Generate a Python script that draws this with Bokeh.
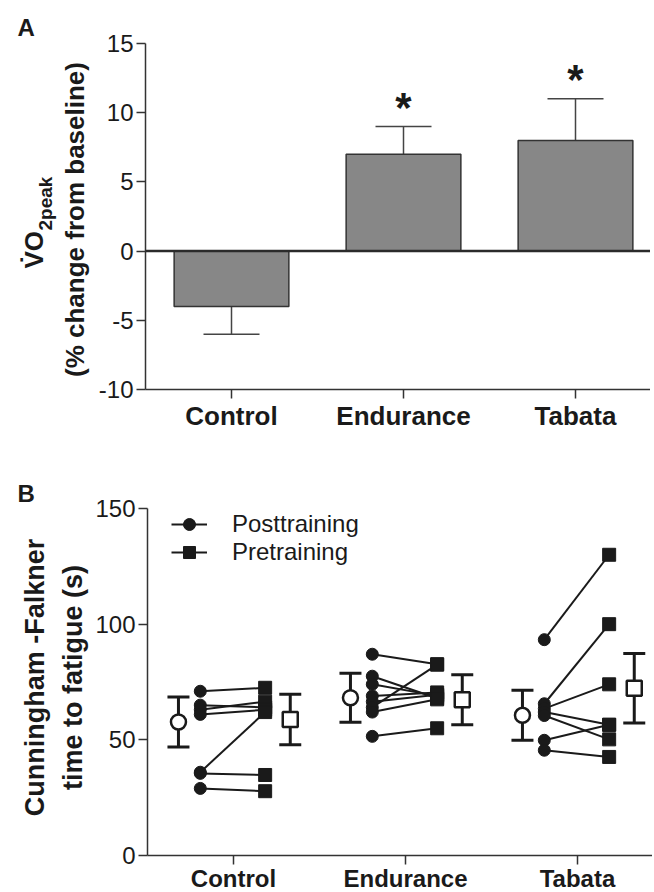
import numpy as np
from bokeh.plotting import figure
from bokeh.layouts import column, row
from bokeh.models import (FixedTicker, Span, Legend, LegendItem, Range1d, Title)
from bokeh.core.properties import value
from bokeh.embed import file_html
from bokeh.resources import INLINE

# ---------------- data ----------------
groups = ["Control", "Endurance", "Tabata"]

# Panel A: VO2peak % change from baseline
vo2_change = [-4, 7, 8]
vo2_err = [2, 2, 3]
vo2_sig = ["", "*", "*"]

# Panel B: Cunningham-Falkner time to fatigue (s), paired individuals
ctrl_post = [71, 65, 63, 61, 36, 35.5, 29]
ctrl_pre = [72.5, 64, 66.5, 63, 62, 34.8, 27.8]
end_post = [87, 77.5, 74, 69, 66.5, 64, 62, 51.5]
end_pre = [82.7, 68, 69, 70.5, 69.5, 82.5, 67.5, 55]
tab_post = [93.3, 65.6, 63.5, 62, 60.5, 49.8, 45.5]
tab_pre = [130, 100, 74, 56.5, 50.2, 56.5, 42.6]

post_mean = [57.7, 68.2, 60.6]
post_sd = [10.8, 10.6, 10.8]
pre_mean = [58.8, 67.3, 72.3]
pre_sd = [10.9, 10.8, 15.0]

legend_labels = ["Posttraining", "Pretraining"]
yA_ticks = [-10, -5, 0, 5, 10, 15]
yB_ticks = [0, 50, 100, 150]

# ---------------- style ----------------
FONT = "Liberation Sans"
INK = "#1a1a1a"
AX = "#333333"
LABW = 92           # width of the side strip holding the y titles
AXW = 53            # room for y tick labels inside each panel
FW = 505            # frame width (px)
PX_PER_CAT = 172.0  # px between categories
X0 = -0.5
X1 = X0 + FW / PX_PER_CAT


def style(p, ticks, cat_size):
    p.outline_line_color = None
    p.xgrid.visible = False
    p.ygrid.visible = False
    for ax in (p.xaxis[0], p.yaxis[0]):
        ax.axis_line_color = AX
        ax.axis_line_width = 1.5
        ax.major_tick_line_color = AX
        ax.major_tick_line_width = 1.5
        ax.major_tick_out = 9
        ax.major_tick_in = 0
        ax.minor_tick_line_color = None
        ax.major_label_text_font = FONT
        ax.major_label_text_color = INK
    p.yaxis.ticker = FixedTicker(ticks=ticks)
    p.yaxis.major_label_overrides = {t: str(t) for t in ticks}
    p.yaxis.major_label_text_font_size = "24px"
    p.yaxis.major_label_standoff = 3
    p.xaxis.ticker = FixedTicker(ticks=[0, 1, 2])
    p.xaxis.major_label_overrides = {i: g for i, g in enumerate(groups)}
    p.xaxis.major_label_text_font_size = cat_size
    p.xaxis.major_label_text_font_style = "bold"


def strip(top, fh, bottom, letter, letter_standoff):
    # side strip whose frame lines up with the panel frame; y data = -(px from panel top)
    s = figure(frame_width=LABW, frame_height=fh, min_border_left=0, min_border_right=0,
               min_border_top=top, min_border_bottom=bottom,
               x_range=Range1d(0, LABW), y_range=Range1d(-(top + fh), -top),
               x_axis_location=None, y_axis_location=None,
               output_backend="svg", toolbar_location=None)
    s.outline_line_color = None
    s.xgrid.visible = False
    s.ygrid.visible = False
    s.add_layout(Title(text=letter, align="left", offset=17, standoff=letter_standoff,
                       text_font=FONT, text_font_size="24px", text_font_style="bold",
                       text_color=INK), "above")
    return s


def put(s, text, px, py, size, align="center"):
    s.text(x=[px], y=[-py], text=[text], angle=np.pi / 2, text_font=value(FONT),
           text_font_size=size, text_font_style="bold", text_color=INK,
           text_align=align, text_baseline="alphabetic")


# ---------------- panel A ----------------
A_TOP, A_FH, A_BOT = 43, 346, 64
pA = figure(frame_width=FW, frame_height=A_FH, min_border_left=AXW, min_border_right=0,
            min_border_top=A_TOP, min_border_bottom=A_BOT,
            x_range=Range1d(X0, X1), y_range=Range1d(-10, 15),
            output_backend="svg", toolbar_location=None)
style(pA, yA_ticks, "26px")
pA.xaxis.major_label_standoff = 2

idx = list(range(len(groups)))
tips = [m + (e if m >= 0 else -e) for m, e in zip(vo2_change, vo2_err)]
pA.segment(x0=idx, y0=vo2_change, x1=idx, y1=tips, line_color="#444444", line_width=1.5)
pA.scatter(x=idx, y=tips, marker="dash", size=56, line_color="#444444", line_width=1.5)
pA.vbar(x=idx, top=vo2_change, bottom=0, width=0.667, fill_color="#878787",
        line_color=AX, line_width=1.5)
pA.add_layout(Span(location=0, dimension="width", line_color="#2b2b2b", line_width=2.5))
pA.text(x=idx, y=[t + 1.4 for t in tips], text=vo2_sig, text_font=value(FONT),
        text_font_size="42px", text_font_style="bold", text_color=INK,
        text_align="center", text_baseline="alphabetic")

sA = strip(A_TOP, A_FH, A_BOT, "A", 5)
put(sA, "(% change from baseline)", 74, 219, "26px")
put(sA, "V\u0307O", 33, 268, "26px", align="left")
put(sA, "2peak", 45, 230, "19px", align="left")

# ---------------- panel B ----------------
B_TOP, B_FH, B_BOT = 55, 347, 20
pB = figure(frame_width=FW, frame_height=B_FH, min_border_left=AXW, min_border_right=0,
            min_border_top=B_TOP, min_border_bottom=B_BOT, x_range=Range1d(X0, X1),
            y_range=Range1d(0, 150), output_backend="svg", toolbar_location=None)
style(pB, yB_ticks, "24px")
pB.xaxis.major_label_standoff = 0

posts = [ctrl_post, end_post, tab_post]
pres = [ctrl_pre, end_pre, tab_pre]
OFF_MEAN_POST, OFF_POST, OFF_PRE, OFF_MEAN_PRE = -0.32, -0.193, 0.184, 0.33

xpost, ypost, xpre, ypre = [], [], [], []
for i, (po, pr) in enumerate(zip(posts, pres)):
    xpost += [i + OFF_POST] * len(po)
    ypost += po
    xpre += [i + OFF_PRE] * len(pr)
    ypre += pr

seg_r = pB.segment(x0=xpost, y0=ypost, x1=xpre, y1=ypre, line_color=INK, line_width=2)
circ_r = pB.scatter(x=xpost, y=ypost, marker="circle", size=12, fill_color=INK, line_color=INK)
sq_r = pB.scatter(x=xpre, y=ypre, marker="square", size=13, fill_color=INK, line_color=INK)

for off, m, s, mk in [(OFF_MEAN_POST, post_mean, post_sd, "circle"),
                      (OFF_MEAN_PRE, pre_mean, pre_sd, "square")]:
    xs = [i + off for i in idx]
    lo = [a - b for a, b in zip(m, s)]
    hi = [a + b for a, b in zip(m, s)]
    pB.segment(x0=xs, y0=lo, x1=xs, y1=hi, line_color=INK, line_width=3)
    pB.scatter(x=xs + xs, y=lo + hi, marker="dash", size=22, line_color=INK, line_width=3)
    pB.scatter(x=xs, y=m, marker=mk, size=15, fill_color="white", line_color=INK, line_width=2.5)

for lab, rend, loc_y in [(legend_labels[0], circ_r, 316), (legend_labels[1], sq_r, 288)]:
    lg = Legend(items=[LegendItem(label=lab, renderers=[seg_r, rend])],
                location=(24, loc_y), padding=0, margin=0, spacing=0,
                glyph_width=36, glyph_height=30, label_height=26, label_standoff=25,
                label_text_font=FONT, label_text_font_size="24px", label_text_color=INK,
                border_line_color=None, background_fill_alpha=0)
    pB.add_layout(lg)

sB = strip(B_TOP, B_FH, B_BOT, "B", 4)
# page y of panel B starts 453 px down
put(sB, "Cunningham -Falkner", 34, 677 - 453, "27px")
put(sB, "time to fatigue (s)", 72, 677 - 453, "27px")

layout = column(row(sA, pA), row(sB, pB))
open("out.html", "w").write(file_html(layout, INLINE))
